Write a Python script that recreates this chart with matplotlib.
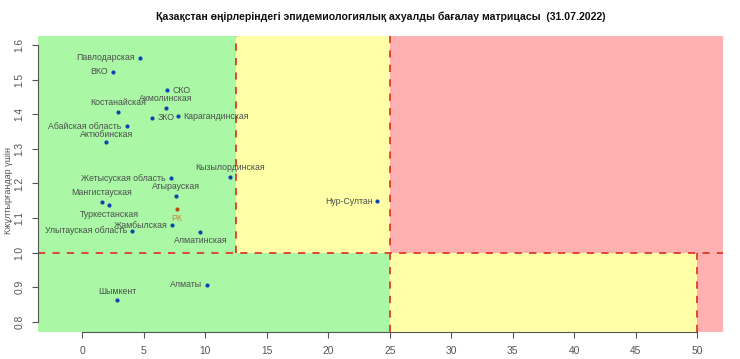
import matplotlib
matplotlib.use('Agg')
import matplotlib.pyplot as plt
from matplotlib.patches import Rectangle

plt.rcParams['font.family'] = ['Liberation Sans', 'DejaVu Sans']

# regional data: x = new cases per 100k, y = Rt
regions = ['Павлодарская', 'ВКО', 'СКО', 'Акмолинская', 'Костанайская', 'ЗКО',
           'Карагандинская', 'Абайская область', 'Актюбинская', 'Кызылординская',
           'Жетысуская область', 'Атырауская', 'Мангистауская', 'Туркестанская',
           'Жамбылская', 'Улытауская область', 'Алматинская', 'Алматы',
           'Шымкент', 'Нур-Султан']
x_vals = [4.7, 2.5, 6.9, 6.8, 2.9, 5.7, 7.8, 3.6, 1.95, 12.0,
          7.2, 7.6, 1.6, 2.2, 7.3, 4.0, 9.6, 10.1, 2.85, 24.0]
y_vals = [1.563, 1.523, 1.470, 1.418, 1.407, 1.390, 1.394, 1.366, 1.321, 1.220,
          1.215, 1.164, 1.147, 1.138, 1.080, 1.063, 1.061, 0.907, 0.862, 1.149]

rk_name = 'РК'
rk_x = 7.7
rk_y = 1.127

title = 'Қазақстан өңірлеріндегі эпидемиологиялық ахуалды бағалау матрицасы  (31.07.2022)'
ylabel = 'Кжұлтырғандар үшін'
x_ticks = [0, 5, 10, 15, 20, 25, 30, 35, 40, 45, 50]
y_ticks = [0.8, 0.9, 1.0, 1.1, 1.2, 1.3, 1.4, 1.5, 1.6]

# label placement (R text pos: 1 below, 2 left, 3 above, 4 right)
label_side = [2, 2, 4, 3, 3, 4, 4, 2, 3, 3,
              2, 3, 3, 1, 2, 2, 1, 2, 3, 2]

GREEN = '#aaf7a6'
YELLOW = '#ffffa8'
RED = '#ffb0b0'
LINE = '#e03a2a'
DOT = '#0a45b0'
TXT = '#4a504a'

x0, x1 = -3.6, 52.1
y0, y1 = 0.771, 1.626

fig = plt.figure(figsize=(7.4, 3.59), dpi=100)
ax = fig.add_axes([0.0514, 0.0752, 0.9257, 0.8245])
ax.set_xlim(x0, x1)
ax.set_ylim(y0, y1)

# risk zones
zones = [
    (x0, 1.0, 12.5 - x0, y1 - 1.0, GREEN),
    (12.5, 1.0, 12.5, y1 - 1.0, YELLOW),
    (25, 1.0, x1 - 25, y1 - 1.0, RED),
    (x0, y0, 25 - x0, 1.0 - y0, GREEN),
    (25, y0, 25, 1.0 - y0, YELLOW),
    (50, y0, x1 - 50, 1.0 - y0, RED),
]
for zx, zy, zw, zh, zc in zones:
    ax.add_patch(Rectangle((zx, zy), zw, zh, facecolor=zc, edgecolor='none', zorder=0))

dash = dict(color=LINE, lw=1.3, ls=(0, (4, 4)), zorder=1)
ax.plot([x0, x1], [1.0, 1.0], **dash)
ax.plot([12.5, 12.5], [1.0, y1], **dash)
ax.plot([25, 25], [y0, y1], **dash)
ax.plot([50, 50], [y0, 1.0], **dash)

ax.scatter(x_vals, y_vals, s=9, color=DOT, zorder=3, linewidths=0)
ax.scatter([rk_x], [rk_y], s=9, color='#b84a10', zorder=3, linewidths=0)

off = {1: (0, -3.5, 'center', 'top'), 2: (-3.5, 0, 'right', 'center'),
       3: (0, 3.5, 'center', 'bottom'), 4: (3.5, 0, 'left', 'center')}
for name, xv, yv, side in zip(regions, x_vals, y_vals, label_side):
    dx, dy, ha, va = off[side]
    if name == 'Актюбинская':
        dy = 2.0  # sits just under the Абайская label
    ax.annotate(name, (xv, yv), xytext=(dx, dy), textcoords='offset points',
                ha=ha, va=va, fontsize=6.3, color=TXT, zorder=4)
ax.annotate(rk_name, (rk_x, rk_y), xytext=(0, -3.5), textcoords='offset points',
            ha='center', va='top', fontsize=6.3, color='#c8863a', zorder=4)

# R-style axes
for s in ['top', 'right']:
    ax.spines[s].set_visible(False)
ax.spines['bottom'].set_bounds(0, 50)
ax.spines['left'].set_bounds(0.8, 1.6)
for s in ['bottom', 'left']:
    ax.spines[s].set_color('#555555')
    ax.spines[s].set_linewidth(0.8)
ax.set_xticks(x_ticks)
ax.set_xticklabels([str(t) for t in x_ticks])
ax.set_yticks(y_ticks)
ax.set_yticklabels(['%.1f' % t for t in y_ticks], rotation=90, va='center')
ax.tick_params(axis='both', labelsize=7.4, colors='#555555', length=4, width=0.8, pad=6)

fig.text(0.514, 0.953, title, ha='center', va='center', fontsize=7.6,
         fontweight='bold', color='#111111')
fig.text(0.011, 0.47, ylabel, rotation=90, ha='center', va='center',
         fontsize=6.5, color='#555555')

fig.savefig('out.png', dpi=100)
